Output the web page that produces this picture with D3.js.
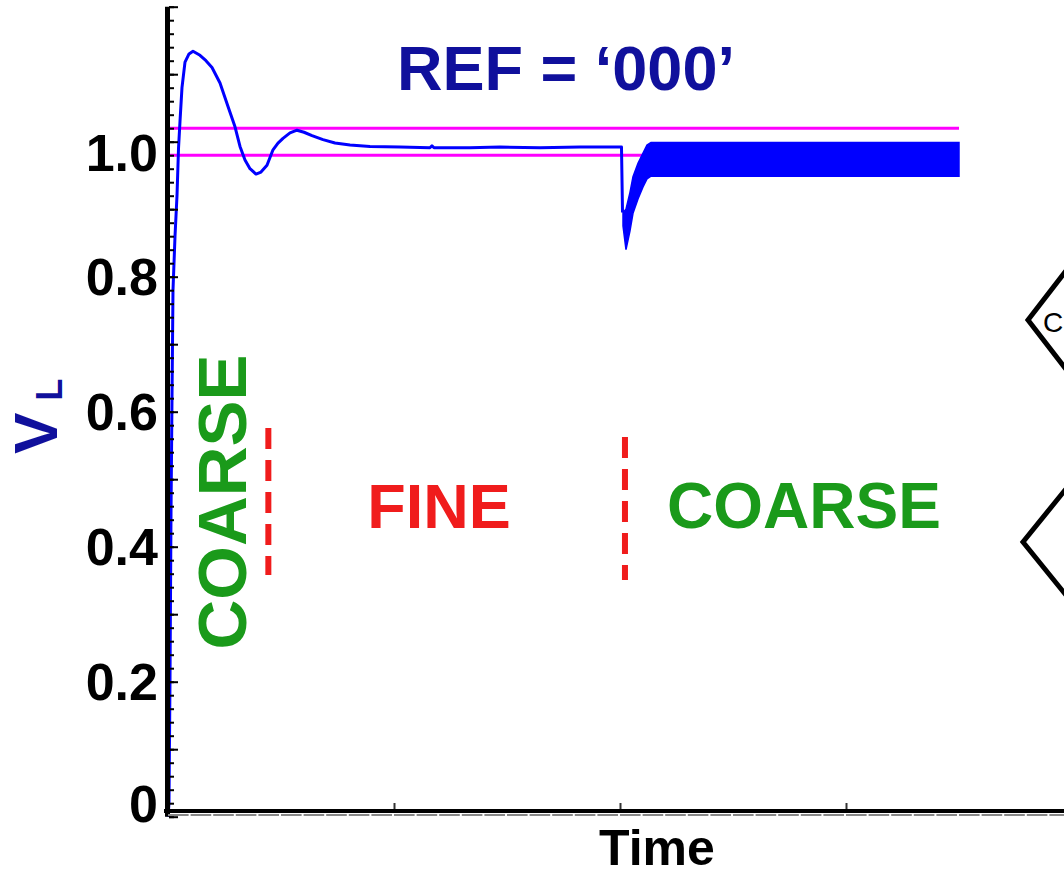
<!DOCTYPE html>
<html>
<head>
<meta charset="utf-8">
<script src="https://cdn.jsdelivr.net/npm/d3@7"></script>
<style>
  body { margin: 0; background: #fff; }
  svg { display: block; font-family: "Liberation Sans", Arial, sans-serif; }
</style>
</head>
<body>
<svg id="chart"></svg>
<script>
// main trace (time in arbitrary units, V_L normalised)
const traceT = [0, 0.0044, 0.0088, 0.0133, 0.0177, 0.0221, 0.031, 0.0398, 0.0465, 0.0531,
  0.0619, 0.0752, 0.0929, 0.1106, 0.1416, 0.168, 0.1947, 0.2301, 0.2655, 0.2965,
  0.3186, 0.3407, 0.3628, 0.3894, 0.4115, 0.438, 0.4646, 0.4867, 0.5088, 0.5398,
  0.5708, 0.6018, 0.6372, 0.6858, 0.739, 0.8053, 0.8938, 1.0265, 1.159, 1.168,
  1.177, 1.336, 1.469, 1.646, 1.823, 1.956, 2.0066, 2.0111];
const traceV = [0, 0.02, 0.2, 0.45, 0.62, 0.78, 0.86, 0.92, 0.99, 1.03,
  1.08, 1.118, 1.13, 1.134, 1.128, 1.12, 1.11, 1.087, 1.052, 1.022,
  0.993, 0.973, 0.96, 0.952, 0.955, 0.965, 0.988, 0.998, 1.005, 1.013,
  1.017, 1.014, 1.009, 1.003, 0.998, 0.995, 0.993, 0.992, 0.991, 0.994,
  0.991, 0.991, 0.992, 0.991, 0.992, 0.992, 0.992, 0.895];

// fast ripple after the switch back to coarse: envelope
const bandT  = [2.0133, 2.0265, 2.0442, 2.0575, 2.0796, 2.1018, 2.1195, 2.1372, 3.5];
const bandHi = [0.895, 0.90, 0.925, 0.948, 0.968, 0.983, 0.995, 0.999, 0.999];
const bandLo = [0.875, 0.84, 0.868, 0.894, 0.915, 0.933, 0.945, 0.949, 0.949];

const refLines = [0.98, 1.02];
const yLabels = [0, 0.2, 0.4, 0.6, 0.8, 1.0];
const yLabelText = ["0", "0.2", "0.4", "0.6", "0.8", "1.0"];
const xMajor = [1, 2, 3];
const modeSwitchT = [0.444, 2.022];

const width = 1064, height = 877;
const blue = "#0000ff", navy = "#10109c", green = "#1a9a1a", red = "#f01c1c";

const svg = d3.select("#chart").attr("width", width).attr("height", height);
svg.append("rect").attr("width", width).attr("height", height).attr("fill", "#fff");

const x = d3.scaleLinear().domain([0, 4]).range([168, 1072]);
const y = d3.scaleLinear().domain([0, 1.2]).range([816.7, 6.7]);

// reference band
svg.selectAll(".ref")
  .data(refLines)
  .enter().append("line")
    .attr("x1", x(0) + 2).attr("x2", x(3.5))
    .attr("y1", d => y(d)).attr("y2", d => y(d))
    .attr("stroke", "#ff00ff").attr("stroke-width", 3);

// trace
const trace = traceT.map((t, i) => ({t: t, v: traceV[i]}));
svg.append("path")
  .datum(trace)
  .attr("fill", "none")
  .attr("stroke", blue)
  .attr("stroke-width", 3)
  .attr("stroke-linejoin", "round")
  .attr("d", d3.line().x(d => x(d.t)).y(d => y(d.v)));

const band = bandT.map((t, i) => ({t: t, hi: bandHi[i], lo: bandLo[i]}));
svg.append("path")
  .datum(band)
  .attr("fill", blue)
  .attr("stroke", blue)
  .attr("stroke-width", 1.5)
  .attr("d", d3.area().x(d => x(d.t)).y0(d => y(d.lo)).y1(d => y(d.hi)));

// y axis: minor + major ticks pointing right
const yMinorAxis = d3.axisRight(y).tickValues(d3.range(0, 1.2001, 0.02)).tickSize(5).tickFormat("");
const yMajorAxis = d3.axisRight(y).tickValues(d3.range(0, 1.2001, 0.1)).tickSize(9).tickFormat("");
[yMinorAxis, yMajorAxis].forEach(ax => {
  let g = svg.append("g").attr("transform", `translate(${x(0) + 1},0)`).call(ax);
  g.select(".domain").remove();
  g.selectAll(".tick line").attr("stroke", "#000").attr("stroke-width", 2);
});
svg.append("line")
  .attr("x1", x(0) - 0.5).attr("x2", x(0) - 0.5)
  .attr("y1", y(1.2)).attr("y2", y(0))
  .attr("stroke", "#000").attr("stroke-width", 5);

// y tick labels (kept clear of the axis corner and the ref band)
svg.selectAll(".ylab")
  .data(yLabels)
  .enter().append("text")
    .attr("x", 158)
    .attr("y", d => Math.min(Math.max(y(d), 152), 803))
    .attr("dy", "0.36em")
    .attr("text-anchor", "end")
    .attr("font-size", 52)
    .attr("font-weight", "bold")
    .text((d, i) => yLabelText[i]);

// x axis
const xAxis = d3.axisTop(x).tickValues(xMajor).tickSize(8).tickSizeOuter(0).tickFormat("");
const xg = svg.append("g").attr("transform", "translate(0,811)").call(xAxis);
xg.select(".domain").remove();
xg.selectAll(".tick line").attr("stroke", "#333").attr("stroke-width", 2);
svg.append("line")
  .attr("x1", x(0) - 4).attr("x2", width)
  .attr("y1", 811).attr("y2", 811)
  .attr("stroke", "#000").attr("stroke-width", 4);
svg.append("line")
  .attr("x1", x(0)).attr("x2", width)
  .attr("y1", 815).attr("y2", 815)
  .attr("stroke", "#888").attr("stroke-width", 2)
  .attr("stroke-dasharray", `${x(0.1) - x(0) - 2} 2`);

svg.append("text")
  .attr("x", 657).attr("y", 865)
  .attr("text-anchor", "middle")
  .attr("font-size", 50).attr("font-weight", "bold")
  .text("Time");

// y label V_L
const vl = svg.append("text")
  .attr("transform", "translate(57,454) rotate(-90)")
  .attr("fill", navy).attr("font-weight", "bold");
vl.append("tspan").attr("font-size", 62).text("V");
vl.append("tspan").attr("font-size", 36).attr("dx", 12).attr("dy", 5).text("L");

// title
svg.append("text")
  .attr("x", 566).attr("y", 90)
  .attr("text-anchor", "middle")
  .attr("fill", navy)
  .attr("font-size", 63).attr("font-weight", "bold")
  .text("REF = \u2018000\u2019");

// mode annotations
svg.selectAll(".switch")
  .data(modeSwitchT)
  .enter().append("line")
    .attr("x1", d => x(d)).attr("x2", d => x(d))
    .attr("y1", (d, i) => i ? 437 : 428)
    .attr("y2", (d, i) => i ? 580 : 575)
    .attr("stroke", red).attr("stroke-width", 6)
    .attr("stroke-dasharray", "21 11");

svg.append("text")
  .attr("transform", "translate(246,502) rotate(-90)")
  .attr("text-anchor", "middle")
  .attr("fill", green).attr("font-size", 69).attr("font-weight", "bold")
  .text("COARSE");

svg.append("text")
  .attr("x", 439).attr("y", 528)
  .attr("text-anchor", "middle")
  .attr("fill", red).attr("font-size", 63).attr("font-weight", "bold")
  .text("FINE");

svg.append("text")
  .attr("x", 804).attr("y", 528)
  .attr("text-anchor", "middle")
  .attr("fill", green).attr("font-size", 64).attr("font-weight", "bold")
  .text("COARSE");

// flowchart fragments cut off at the right edge
svg.append("polyline")
  .attr("points", "1072,263 1028,320 1072,377")
  .attr("fill", "none").attr("stroke", "#000").attr("stroke-width", 5);
svg.append("polyline")
  .attr("points", "1074,479 1023,542 1074,605")
  .attr("fill", "none").attr("stroke", "#000").attr("stroke-width", 5);
svg.append("text")
  .attr("x", 1043).attr("y", 332)
  .attr("font-size", 28).attr("fill", "#000")
  .text("C");
</script>
</body>
</html>
